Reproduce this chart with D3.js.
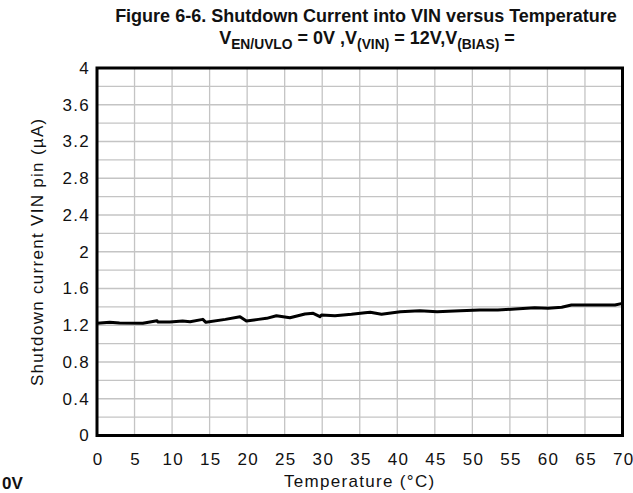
<!DOCTYPE html>
<html>
<head>
<meta charset="utf-8">
<script src="https://cdn.jsdelivr.net/npm/d3@7"></script>
<style>
  body { margin: 0; background: #fff; }
  text { font-family: "Liberation Sans", Arial, sans-serif; }
</style>
</head>
<body>
<div id="chart"></div>
<script>
// data
var temperature = [0, 1.7, 3, 6.1, 8, 8.1, 9.7, 11.4, 12.4, 14.1, 14.5, 17.1, 19.05, 19.9, 21.5, 22.6, 23.9, 25.7, 27.7, 28.8, 29.7, 29.9, 31.7, 33.9, 35.7, 36.4, 37.9, 40.4, 43, 45.3, 48.4, 51, 53.4, 55.7, 58.3, 60.1, 61.9, 63.2, 69, 70];
var current = [1.221, 1.232, 1.224, 1.221, 1.249, 1.235, 1.235, 1.246, 1.238, 1.264, 1.232, 1.264, 1.293, 1.246, 1.264, 1.275, 1.304, 1.282, 1.322, 1.33, 1.293, 1.311, 1.304, 1.319, 1.336, 1.341, 1.319, 1.347, 1.358, 1.347, 1.358, 1.366, 1.366, 1.376, 1.391, 1.384, 1.395, 1.42, 1.42, 1.438];
var xTicks = [0, 5, 10, 15, 20, 25, 30, 35, 40, 45, 50, 55, 60, 65, 70];
var yTicks = [0, 0.4, 0.8, 1.2, 1.6, 2, 2.4, 2.8, 3.2, 3.6, 4];
var yGrid = d3.range(0, 21).map(function(i) { return i / 5; });

var dim = {
  width: 633,
  height: 493,
  left: 97,
  right: 622.5,
  top: 68,
  bottom: 435.5,
  labelSize: "17px",
  labelSpacing: "1.3px"
};

var svg = d3.select("#chart").append("svg")
  .attr("width", dim.width)
  .attr("height", dim.height);

var x = d3.scaleLinear().domain([0, 70]).range([dim.left, dim.right]);
var y = d3.scaleLinear().domain([0, 4]).range([dim.bottom, dim.top]);

// grid
svg.append("g").selectAll("line").data(xTicks).enter().append("line")
  .attr("x1", function(d) { return x(d); })
  .attr("x2", function(d) { return x(d); })
  .attr("y1", dim.top)
  .attr("y2", dim.bottom)
  .attr("stroke", "#c4c4c4")
  .attr("stroke-width", 1.3);

svg.append("g").selectAll("line").data(yGrid).enter().append("line")
  .attr("x1", dim.left)
  .attr("x2", dim.right)
  .attr("y1", function(d) { return y(d); })
  .attr("y2", function(d) { return y(d); })
  .attr("stroke", "#c4c4c4")
  .attr("stroke-width", 1.3);

// axes (labels only)
var xAxis = svg.append("g")
  .attr("transform", "translate(0," + dim.bottom + ")")
  .call(d3.axisBottom(x).tickValues(xTicks).tickSize(0).tickPadding(17).tickFormat(d3.format("d")));
var yAxis = svg.append("g")
  .attr("transform", "translate(" + dim.left + ",0)")
  .call(d3.axisLeft(y).tickValues(yTicks).tickSize(0).tickPadding(7).tickFormat(function(d) { return d3.format("")(d); }));
[xAxis, yAxis].forEach(function(a) {
  a.select(".domain").remove();
  a.selectAll("text")
    .style("font-family", "'Liberation Sans', Arial, sans-serif")
    .style("font-size", dim.labelSize)
    .style("letter-spacing", dim.labelSpacing)
    .attr("fill", "#111");
});
xAxis.selectAll("text").attr("dx", "0.65px");

// line
var line = d3.line()
  .x(function(d, i) { return x(temperature[i]); })
  .y(function(d) { return y(d); });

svg.append("path")
  .datum(current)
  .attr("d", line)
  .attr("fill", "none")
  .attr("stroke", "#000")
  .attr("stroke-width", 3)
  .attr("stroke-linejoin", "round");

// frame
svg.append("rect")
  .attr("x", dim.left)
  .attr("y", dim.top)
  .attr("width", dim.right - dim.left)
  .attr("height", dim.bottom - dim.top)
  .attr("fill", "none")
  .attr("stroke", "#000")
  .attr("stroke-width", 3);

// titles
svg.append("text")
  .attr("x", 366)
  .attr("y", 22)
  .attr("text-anchor", "middle")
  .style("font-weight", "bold")
  .style("font-size", "18px")
  .attr("fill", "#111")
  .text("Figure 6-6. Shutdown Current into VIN versus Temperature");

var sub = svg.append("text")
  .attr("x", 367)
  .attr("y", 44)
  .attr("text-anchor", "middle")
  .style("font-weight", "bold")
  .style("font-size", "18px")
  .attr("fill", "#111");
var parts = [
  ["V", 0], ["EN/UVLO", 1], [" = 0V ,V", 0], ["(VIN)", 1], [" = 12V,V", 0], ["(BIAS)", 1], [" =", 0]
];
parts.forEach(function(p, i) {
  var prev = i > 0 ? parts[i - 1][1] : 0;
  var shift = p[1] - prev;
  sub.append("tspan")
    .attr("dy", shift * 5)
    .style("font-size", p[1] ? "13.8px" : "18px")
    .text(p[0]);
});

svg.append("text")
  .attr("x", 2)
  .attr("y", 489)
  .style("font-weight", "bold")
  .style("font-size", "17px")
  .attr("fill", "#111")
  .text("0V");

svg.append("text")
  .attr("x", (dim.left + dim.right) / 2)
  .attr("y", 487)
  .attr("text-anchor", "middle")
  .style("font-size", dim.labelSize)
  .style("letter-spacing", dim.labelSpacing)
  .attr("fill", "#111")
  .text("Temperature (\u00B0C)");

svg.append("text")
  .attr("transform", "translate(43," + ((dim.top + dim.bottom) / 2) + ") rotate(-90)")
  .attr("text-anchor", "middle")
  .style("font-size", dim.labelSize)
  .style("letter-spacing", dim.labelSpacing)
  .attr("fill", "#111")
  .text("Shutdown current VIN pin (\u00B5A)");
</script>
</body>
</html>
